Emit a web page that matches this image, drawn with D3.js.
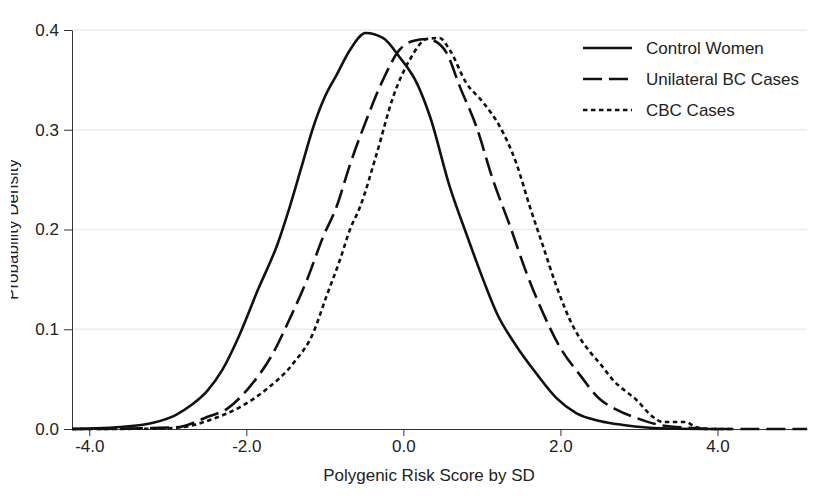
<!DOCTYPE html>
<html>
<head>
<meta charset="utf-8">
<script src="https://cdn.jsdelivr.net/npm/d3@7"></script>
<style>
  body { margin: 0; background: #fff; }
  text { font-family: "Liberation Sans", Arial, sans-serif; fill: #222; }
</style>
</head>
<body>
<div id="chart-area"></div>
<script>
// density curves: [score SD, density]
const controlWomen = [
  [-4.22, 0], [-4.0, 0.0005], [-3.6, 0.002], [-3.2, 0.006], [-2.9, 0.014], [-2.7, 0.024],
  [-2.5, 0.038], [-2.3, 0.06], [-2.1, 0.092], [-1.85, 0.14], [-1.6, 0.186], [-1.45, 0.222],
  [-1.3, 0.262], [-1.15, 0.302], [-1.0, 0.333], [-0.85, 0.355], [-0.68, 0.38], [-0.48, 0.397],
  [-0.26, 0.392], [-0.05, 0.373], [0.17, 0.347], [0.34, 0.313], [0.59, 0.243], [0.8, 0.196],
  [1.02, 0.149], [1.19, 0.116], [1.44, 0.083], [1.7, 0.055], [1.95, 0.031], [2.2, 0.016],
  [2.5, 0.008], [2.8, 0.004], [3.1, 0.0015], [3.5, 0.0003], [4.0, 0]
];
const unilateralCases = [
  [-4.22, 0], [-3.6, 0.0003], [-3.2, 0.001], [-2.85, 0.002], [-2.68, 0.006], [-2.5, 0.012],
  [-2.25, 0.02], [-1.96, 0.042], [-1.66, 0.076], [-1.45, 0.11], [-1.23, 0.149], [-1.02, 0.193],
  [-0.85, 0.223], [-0.68, 0.265], [-0.47, 0.31], [-0.26, 0.35], [-0.05, 0.38], [0.12, 0.389],
  [0.3, 0.391], [0.42, 0.388], [0.55, 0.377], [0.72, 0.343], [0.93, 0.303], [1.14, 0.25],
  [1.36, 0.203], [1.57, 0.156], [1.78, 0.116], [1.99, 0.0825], [2.25, 0.054], [2.5, 0.03],
  [2.7, 0.02], [2.97, 0.011], [3.27, 0.004], [3.69, 0.001], [4.0, 0], [5.14, 0]
];
const cbcCases = [
  [-4.22, 0], [-3.2, 0.0003], [-2.8, 0.002], [-2.43, 0.01], [-2.08, 0.022], [-1.74, 0.04],
  [-1.4, 0.066], [-1.15, 0.096], [-0.98, 0.133], [-0.81, 0.169], [-0.68, 0.2], [-0.55, 0.223],
  [-0.34, 0.276], [-0.13, 0.333], [0.08, 0.37], [0.3, 0.391], [0.46, 0.392], [0.59, 0.38],
  [0.8, 0.347], [1.02, 0.327], [1.23, 0.303], [1.44, 0.266], [1.61, 0.223], [1.78, 0.183],
  [1.95, 0.143], [2.16, 0.103], [2.38, 0.077], [2.5, 0.066], [2.67, 0.049], [2.97, 0.029],
  [3.18, 0.012], [3.3, 0.007], [3.6, 0.007], [3.72, 0.002], [3.9, 0], [4.2, 0]
];

const seriesNames = ['Control Women', 'Unilateral BC Cases', 'CBC Cases'];
const xTicks = [-4, -2, 0, 2, 4];
const yTicks = [0, 0.1, 0.2, 0.3, 0.4];

const width = 819;
const height = 499;
const plot = { left: 72, right: 807, top: 30, bottom: 429 };

const x = d3.scaleLinear()
  .domain([-4.22, 5.14])
  .range([plot.left, plot.right]);

const y = d3.scaleLinear()
  .domain([0, 0.4])
  .range([plot.bottom, plot.top]);

const svg = d3.select('#chart-area').append('svg')
  .attr('width', width)
  .attr('height', height);

// gridlines
svg.append('g')
  .selectAll('line')
  .data(yTicks.slice(1))
  .enter().append('line')
  .attr('x1', plot.left)
  .attr('x2', plot.right)
  .attr('y1', d => y(d))
  .attr('y2', d => y(d))
  .attr('stroke', '#e6eeee')
  .attr('stroke-width', 1.5);

// y axis
const yAxisGroup = svg.append('g')
  .attr('transform', `translate(${plot.left}, 0)`)
  .call(d3.axisLeft(y).tickValues(yTicks).tickFormat(d3.format('.1f')).tickSize(8).tickPadding(5).tickSizeOuter(0));

// x axis
const xAxisGroup = svg.append('g')
  .attr('transform', `translate(0, ${plot.bottom})`)
  .call(d3.axisBottom(x).tickValues(xTicks).tickFormat(d3.format('.1f')).tickSize(7).tickPadding(4).tickSizeOuter(0));

[yAxisGroup, xAxisGroup].forEach(ax => {
  ax.select('.domain').attr('stroke', '#333');
  ax.selectAll('.tick line').attr('stroke', '#333');
  ax.selectAll('text')
    .attr('font-size', '17px')
    .attr('font-family', '"Liberation Sans", Arial, sans-serif')
    .attr('fill', '#222');
});
xAxisGroup.selectAll('text').text(d => d3.format('.1f')(d).replace('\u2212', '-'));

// axis titles
svg.append('text')
  .attr('x', 429)
  .attr('y', 481)
  .attr('font-size', '17px')
  .attr('text-anchor', 'middle')
  .text('Polygenic Risk Score by SD');

// y title is partly cut off at the left edge in the original
svg.append('clipPath').attr('id', 'ylab-clip')
  .append('rect').attr('x', 11).attr('y', 0).attr('width', 40).attr('height', height);

svg.append('g')
  .attr('clip-path', 'url(#ylab-clip)')
  .append('text')
  .attr('transform', `translate(18, ${(plot.top + plot.bottom) / 2}) rotate(-90)`)
  .attr('font-size', '17px')
  .attr('text-anchor', 'middle')
  .text('Probability Density');

// curves
const styles = [
  { data: controlWomen, dash: null },
  { data: unilateralCases, dash: '19,7' },
  { data: cbcCases, dash: '4.5,3.5' }
];

const line = d3.line()
  .x(d => x(d[0]))
  .y(d => y(d[1]))
  .curve(d3.curveMonotoneX);

svg.append('g')
  .selectAll('path')
  .data(styles)
  .enter().append('path')
  .attr('d', d => line(d.data))
  .attr('fill', 'none')
  .attr('stroke', '#111')
  .attr('stroke-width', 2.6)
  .attr('stroke-dasharray', d => d.dash);

// legend
const legend = svg.append('g');
seriesNames.forEach((name, i) => {
  const row = legend.append('g')
    .attr('transform', `translate(583, ${48 + i * 31})`);
  row.append('line')
    .attr('x1', 0)
    .attr('x2', 49)
    .attr('stroke', '#111')
    .attr('stroke-width', 2.6)
    .attr('stroke-dasharray', styles[i].dash);
  row.append('text')
    .attr('x', 63)
    .attr('dy', '0.35em')
    .attr('font-size', '17px')
    .text(name);
});
</script>
</body>
</html>
